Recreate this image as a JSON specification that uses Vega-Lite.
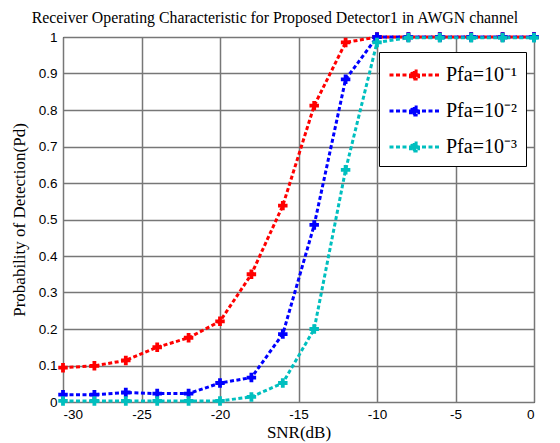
{
  "$schema": "https://vega.github.io/schema/vega-lite/v6.json",
  "width": 471,
  "height": 365,
  "autosize": {"type": "none"},
  "padding": {"left": 63, "top": 37, "right": 26, "bottom": 41},
  "background": "white",
  "title": {
    "text": "Receiver Operating Characteristic for Proposed Detector1 in AWGN channel",
    "font": "Liberation Serif",
    "fontSize": 15.8,
    "fontWeight": "normal",
    "color": "black",
    "anchor": "middle",
    "frame": "bounds",
    "offset": 3
  },
  "config": {
    "view": {"stroke": "black", "strokeWidth": 1},
    "axis": {
      "labelFont": "Liberation Sans",
      "labelFontSize": 13.5,
      "labelColor": "black",
      "titleFont": "Liberation Serif",
      "titleFontSize": 17,
      "titleFontWeight": "normal",
      "titleColor": "black",
      "grid": true,
      "gridColor": "#777777",
      "gridWidth": 1.5,
      "domain": false,
      "ticks": false
    }
  },
  "data": {
    "values": [
      {"snr": -30, "pd": 0.094, "s": "Pfa=10⁻¹"},
      {"snr": -28, "pd": 0.099, "s": "Pfa=10⁻¹"},
      {"snr": -26, "pd": 0.114, "s": "Pfa=10⁻¹"},
      {"snr": -24, "pd": 0.150, "s": "Pfa=10⁻¹"},
      {"snr": -22, "pd": 0.176, "s": "Pfa=10⁻¹"},
      {"snr": -20, "pd": 0.221, "s": "Pfa=10⁻¹"},
      {"snr": -18, "pd": 0.350, "s": "Pfa=10⁻¹"},
      {"snr": -16, "pd": 0.538, "s": "Pfa=10⁻¹"},
      {"snr": -14, "pd": 0.812, "s": "Pfa=10⁻¹"},
      {"snr": -12, "pd": 0.985, "s": "Pfa=10⁻¹"},
      {"snr": -10, "pd": 1.0, "s": "Pfa=10⁻¹"},
      {"snr": -8, "pd": 1.0, "s": "Pfa=10⁻¹"},
      {"snr": -6, "pd": 1.0, "s": "Pfa=10⁻¹"},
      {"snr": -4, "pd": 1.0, "s": "Pfa=10⁻¹"},
      {"snr": -2, "pd": 1.0, "s": "Pfa=10⁻¹"},
      {"snr": 0, "pd": 1.0, "s": "Pfa=10⁻¹"},
      {"snr": -30, "pd": 0.020, "s": "Pfa=10⁻²"},
      {"snr": -28, "pd": 0.020, "s": "Pfa=10⁻²"},
      {"snr": -26, "pd": 0.026, "s": "Pfa=10⁻²"},
      {"snr": -24, "pd": 0.023, "s": "Pfa=10⁻²"},
      {"snr": -22, "pd": 0.023, "s": "Pfa=10⁻²"},
      {"snr": -20, "pd": 0.052, "s": "Pfa=10⁻²"},
      {"snr": -18, "pd": 0.067, "s": "Pfa=10⁻²"},
      {"snr": -16, "pd": 0.186, "s": "Pfa=10⁻²"},
      {"snr": -14, "pd": 0.485, "s": "Pfa=10⁻²"},
      {"snr": -12, "pd": 0.884, "s": "Pfa=10⁻²"},
      {"snr": -10, "pd": 1.0, "s": "Pfa=10⁻²"},
      {"snr": -8, "pd": 1.0, "s": "Pfa=10⁻²"},
      {"snr": -6, "pd": 1.0, "s": "Pfa=10⁻²"},
      {"snr": -4, "pd": 1.0, "s": "Pfa=10⁻²"},
      {"snr": -2, "pd": 1.0, "s": "Pfa=10⁻²"},
      {"snr": 0, "pd": 1.0, "s": "Pfa=10⁻²"},
      {"snr": -30, "pd": 0.003, "s": "Pfa=10⁻³"},
      {"snr": -28, "pd": 0.003, "s": "Pfa=10⁻³"},
      {"snr": -26, "pd": 0.003, "s": "Pfa=10⁻³"},
      {"snr": -24, "pd": 0.003, "s": "Pfa=10⁻³"},
      {"snr": -22, "pd": 0.003, "s": "Pfa=10⁻³"},
      {"snr": -20, "pd": 0.003, "s": "Pfa=10⁻³"},
      {"snr": -18, "pd": 0.014, "s": "Pfa=10⁻³"},
      {"snr": -16, "pd": 0.052, "s": "Pfa=10⁻³"},
      {"snr": -14, "pd": 0.200, "s": "Pfa=10⁻³"},
      {"snr": -12, "pd": 0.636, "s": "Pfa=10⁻³"},
      {"snr": -10, "pd": 0.985, "s": "Pfa=10⁻³"},
      {"snr": -8, "pd": 0.998, "s": "Pfa=10⁻³"},
      {"snr": -6, "pd": 0.998, "s": "Pfa=10⁻³"},
      {"snr": -4, "pd": 0.998, "s": "Pfa=10⁻³"},
      {"snr": -2, "pd": 0.998, "s": "Pfa=10⁻³"},
      {"snr": 0, "pd": 0.998, "s": "Pfa=10⁻³"}
    ]
  },
  "encoding": {
    "x": {
      "field": "snr",
      "type": "quantitative",
      "title": "SNR(dB)",
      "scale": {"domain": [-30, 0], "nice": false},
      "axis": {"values": [-30, -25, -20, -15, -10, -5, 0], "labelExpr": "datum.value + ''", "labelPadding": 5, "titlePadding": 4}
    },
    "y": {
      "field": "pd",
      "type": "quantitative",
      "title": "Probability of Detection(Pd)",
      "scale": {"domain": [0, 1], "nice": false},
      "axis": {"values": [0, 0.1, 0.2, 0.3, 0.4, 0.5, 0.6, 0.7, 0.8, 0.9, 1], "labelExpr": "datum.value + ''", "labelPadding": 6, "titleFontSize": 17, "titleX": -35, "titleBaseline": "bottom"}
    },
    "color": {
      "field": "s",
      "type": "nominal",
      "scale": {
        "domain": ["Pfa=10⁻¹", "Pfa=10⁻²", "Pfa=10⁻³"],
        "range": ["#ff0000", "#0000ff", "#00bfbf"]
      },
      "legend": {
        "title": null,
        "orient": "none",
        "legendX": 316,
        "legendY": 15,
        "direction": "vertical",
        "fillColor": "white",
        "strokeColor": "black",
        "padding": 9,
        "rowPadding": 12,
        "labelFont": "Liberation Serif",
        "labelFontSize": 20,
        "labelColor": "black",
        "labelOffset": 17.5,
        "symbolOffset": 12.5,
        "symbolType": "M-2,0H2M-0.32,-0.13H-0.13V-0.32H0.13V-0.13H0.32V0.13H0.13V0.32H-0.13V0.13H-0.32Z",
        "symbolSize": 625,
        "symbolStrokeWidth": 3,
        "symbolDash": [4, 2.5],
        "encode": {
          "symbols": {"update": {"fill": {"scale": "color", "field": "value"}, "fillOpacity": {"value": 1}}}
        }
      }
    }
  },
  "layer": [
    {
      "mark": {"type": "line", "strokeWidth": 3, "strokeDash": [4, 2.5]}
    },
    {
      "mark": {"type": "point", "shape": "cross", "filled": true, "size": 90, "opacity": 1},
      "encoding": {"color": {"field": "s", "type": "nominal", "legend": null}}
    }
  ]
}
